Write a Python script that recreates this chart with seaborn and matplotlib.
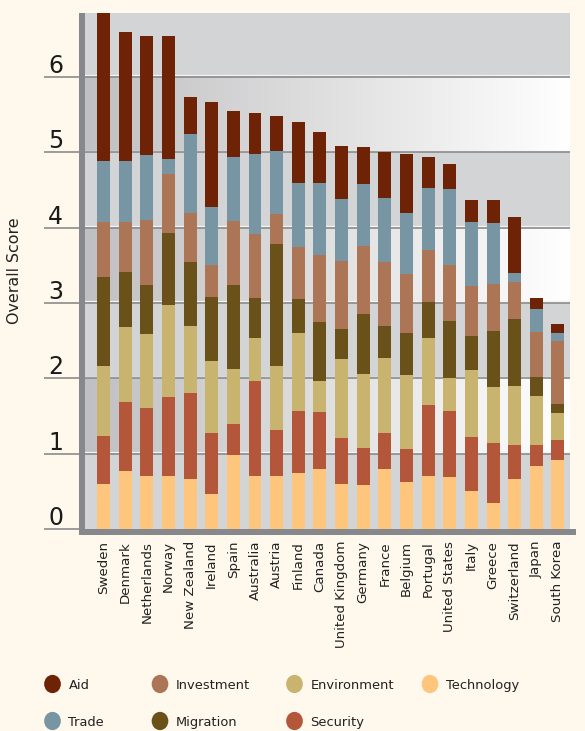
import numpy as np
import pandas as pd
import seaborn as sns
import matplotlib
matplotlib.use("Agg")
import matplotlib.pyplot as plt
from matplotlib.patches import Rectangle, Ellipse
from matplotlib.colors import LinearSegmentedColormap
import matplotlib.transforms as mtrans

# ---------------- data ----------------
countries = ["Sweden", "Denmark", "Netherlands", "Norway", "New Zealand", "Ireland",
             "Spain", "Australia", "Austria", "Finland", "Canada", "United Kingdom",
             "Germany", "France", "Belgium", "Portugal", "United States", "Italy",
             "Greece", "Switzerland", "Japan", "South Korea"]

technology = [0.60, 0.77, 0.70, 0.70, 0.66, 0.46, 0.98, 0.70, 0.70, 0.75, 0.79,
              0.60, 0.58, 0.79, 0.62, 0.70, 0.69, 0.50, 0.34, 0.66, 0.83, 0.91]
security = [0.64, 0.92, 0.91, 1.05, 1.14, 0.82, 0.42, 1.26, 0.62, 0.82, 0.76,
            0.61, 0.50, 0.48, 0.44, 0.94, 0.87, 0.72, 0.80, 0.46, 0.28, 0.27]
environment = [0.93, 0.99, 0.98, 1.22, 0.89, 0.95, 0.73, 0.58, 0.84, 1.03, 0.42,
               1.05, 0.98, 1.00, 0.98, 0.89, 0.44, 0.89, 0.75, 0.78, 0.66, 0.36]
migration = [1.18, 0.73, 0.65, 0.96, 0.85, 0.85, 1.11, 0.53, 1.62, 0.45, 0.78,
             0.40, 0.80, 0.42, 0.56, 0.48, 0.76, 0.45, 0.74, 0.89, 0.25, 0.12]
investment = [0.73, 0.66, 0.86, 0.78, 0.66, 0.42, 0.85, 0.85, 0.40, 0.69, 0.89,
              0.90, 0.90, 0.85, 0.78, 0.70, 0.74, 0.66, 0.62, 0.49, 0.60, 0.83]
trade = [0.81, 0.81, 0.87, 0.20, 1.05, 0.78, 0.85, 1.06, 0.84, 0.85, 0.95,
         0.82, 0.82, 0.85, 0.82, 0.82, 1.02, 0.86, 0.81, 0.12, 0.30, 0.11]
aid = [1.96, 1.72, 1.58, 1.64, 0.48, 1.39, 0.61, 0.54, 0.46, 0.81, 0.68,
       0.71, 0.49, 0.61, 0.78, 0.41, 0.32, 0.29, 0.31, 0.74, 0.15, 0.12]

# stacking order: first = top of stack
components = ["Aid", "Trade", "Investment", "Migration", "Environment", "Security", "Technology"]
series = [aid, trade, investment, migration, environment, security, technology]
palette = {"Aid": "#6e2306", "Trade": "#7895a3", "Investment": "#ac7656",
           "Migration": "#6a5119", "Environment": "#c8b46e", "Security": "#b3563a",
           "Technology": "#fec57c"}

legend_rows = [["Aid", "Investment", "Environment", "Technology"],
               ["Trade", "Migration", "Security"]]
yticks = [0, 1, 2, 3, 4, 5, 6]

n = len(countries)
pos = np.arange(n)
df = pd.DataFrame({
    "pos": np.tile(pos, len(components)),
    "component": np.repeat(components, n),
    "value": np.concatenate([np.asarray(s, float) for s in series]),
})

# ---------------- figure ----------------
W, H, DPI = 585, 731, 100
BG = "#fef8ed"
fig = plt.figure(figsize=(W / DPI, H / DPI), dpi=DPI)
fig.patch.set_facecolor(BG)


def px_box(l, t, r, b):
    return [l / W, 1 - b / H, (r - l) / W, (b - t) / H]


ax = fig.add_axes(px_box(85, 13, 570, 529))
ax.set_facecolor("#d3d4d6")

sns.histplot(data=df, x="pos", weights="value", hue="component",
             hue_order=components, multiple="stack", discrete=True, shrink=0.6,
             palette=palette, alpha=1, linewidth=0, legend=False, ax=ax, zorder=3)

xl = (-0.855, n - 1 + 0.555)
ytop = 6.85

# banded gradient background
cmap = LinearSegmentedColormap.from_list("band", ["#c0c0c2", "#ffffff"])
grad = np.linspace(0, 1, 256).reshape(1, -1)
for lo in (1, 3, 5):
    ax.imshow(grad, extent=[xl[0], xl[1], lo, lo + 1], aspect="auto", cmap=cmap,
              interpolation="bilinear", zorder=0.5)

# grid lines with light highlight
hl = ax.transData + mtrans.ScaledTranslation(0, 1.6 / DPI, fig.dpi_scale_trans)
for v in yticks[1:]:
    ax.plot([xl[0], xl[1]], [v, v], color="#f4f4f4", lw=0.9, transform=hl, zorder=1)
    ax.plot([xl[0], xl[1]], [v, v], color="#8b8b8b", lw=1.2, zorder=1.1)

ax.set_xlim(*xl)
ax.set_ylim(0, ytop)

for s in ax.spines.values():
    s.set_visible(False)

ax.set_yticks(yticks)
ax.tick_params(axis="y", length=41 * 72 / DPI, width=1.2, color="#8b8b8b",
               labelleft=False)
ax.set_xticks(pos)
ax.set_xticklabels(countries, rotation=90, fontsize=9.6, color="#222222")
ax.tick_params(axis="x", length=0, pad=12 * 72 / DPI)
ax.set_xlabel("")
ax.set_ylabel("")

# y tick labels above the tick lines
tr = mtrans.blended_transform_factory(fig.transFigure, ax.transData) + \
    mtrans.ScaledTranslation(0, 4 / DPI, fig.dpi_scale_trans)
for v in yticks:
    ax.text(48 / W, v, str(v), transform=tr, ha="left", va="baseline",
            fontsize=17, color="#1a1a1a")

# thick axis lines
SP = "#87888c"
fig.add_artist(Rectangle((79 / W, 1 - 535 / H), 6 / W, (535 - 13) / H,
                         transform=fig.transFigure, color=SP, lw=0, zorder=5))
fig.add_artist(Rectangle((79 / W, 1 - 535 / H), (576 - 79) / W, 6 / H,
                         transform=fig.transFigure, color=SP, lw=0, zorder=5))

fig.text(15 / W, 1 - 271 / H, "Overall Score", rotation=90, ha="center",
         va="center", fontsize=11.4, color="#222222")

# legend
col_x = [52.5, 160, 294.5, 430]
row_y = [684, 721]
for r, row in enumerate(legend_rows):
    for c, name in enumerate(row):
        cx, cy = col_x[c], row_y[r]
        fig.add_artist(Ellipse((cx / DPI, (H - cy) / DPI), 16.7 / DPI, 18.3 / DPI,
                               transform=fig.dpi_scale_trans,
                               facecolor=palette[name], edgecolor="none"))
        fig.text((cx + 16) / W, 1 - cy / H, name, ha="left", va="center_baseline",
                 fontsize=9.4, color="#222222")

fig.savefig("out.png", dpi=DPI, facecolor=BG)
